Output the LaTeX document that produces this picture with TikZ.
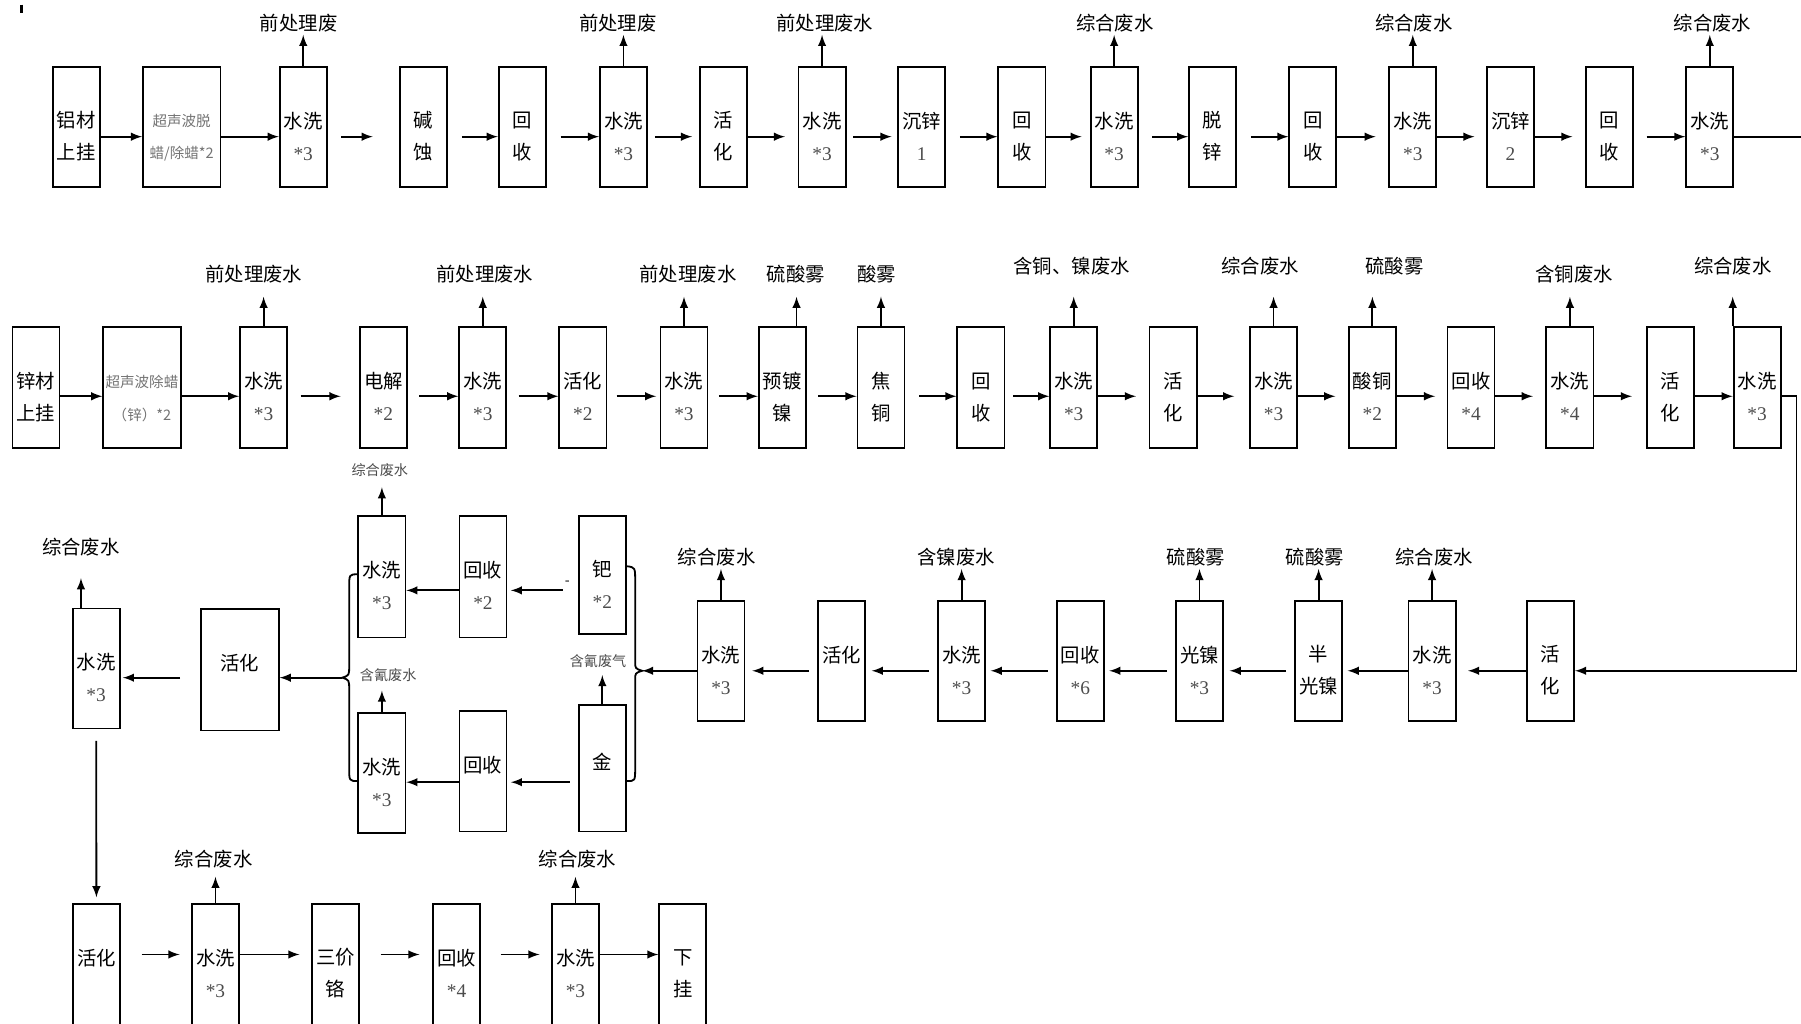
\documentclass[tikz,border=0pt]{standalone}
\usepackage{fontspec}
\setmainfont{Liberation Serif}
\newfontfamily\cjk{Noto Sans CJK SC}
\newcommand{\gnum}[1]{{\rmfamily\color{black!70}#1}}
\begin{document}
\begin{tikzpicture}[x=0.02cm,y=-0.02cm,line width=0.9pt,
  box/.style={draw,minimum width=0.82cm,minimum height=2.1cm,inner sep=0pt,align=center,
    font={\cjk\fontsize{9.6}{15.9}\selectfont},execute at begin node={\rule{0pt}{33pt}}},
  smallbox/.style={box,minimum width=1.35cm,text=black!55,font={\cjk\fontsize{7.2}{16}\selectfont}},
  waste/.style={inner sep=1pt,font={\cjk\fontsize{9.6}{11}\selectfont}},
  tinywaste/.style={inner sep=1pt,text=black!70,font={\cjk\fontsize{7}{8}\selectfont}}]
  \useasboundingbox (0,0) rectangle (1568,891);
  \draw[line width=1.4pt] (19,4)--(19,11);
  \coordinate (r1) at (0,119);
  \coordinate (r2) at (0,345);
  \coordinate (r3) at (0,584);
  \coordinate (r4) at (0,831);
  \coordinate (rt) at (0,514);
  \coordinate (rb) at (0,681);
  \coordinate (e1) at (1568,119);
  \coordinate (k1) at (1564,345);
  \coordinate (k2) at (1564,584);
  \coordinate (lbr) at (298,590);
  \coordinate (rbr) at (559,584);

  \node[box] (a1) at (66.3,110.5) {铝材\\上挂};
  \node[smallbox] (a2) at (158.2,110.5) {超声波脱\\蜡/除蜡*2};
  \node[box] (a3) at (264,110.5) {水洗\\\gnum{*3}};
  \node[box] (a4) at (368.8,110.5) {碱\\蚀};
  \node[box] (a5) at (454.7,110.5) {回\\收};
  \node[box] (a6) at (542.8,110.5) {水洗\\\gnum{*3}};
  \node[box] (a7) at (629.8,110.5) {活\\化};
  \node[box] (a8) at (715.7,110.5) {水洗\\\gnum{*3}};
  \node[box] (a9) at (802.5,110.5) {沉锌\\\gnum{1}};
  \node[box] (a10) at (889.7,110.5) {回\\收};
  \node[box] (a11) at (970,110.5) {水洗\\\gnum{*3}};
  \node[box] (a12) at (1055.7,110.5) {脱\\锌};
  \node[box] (a13) at (1143,110.5) {回\\收};
  \node[box] (a14) at (1230,110.5) {水洗\\\gnum{*3}};
  \node[box] (a15) at (1315,110.5) {沉锌\\\gnum{2}};
  \node[box] (a16) at (1401.3,110.5) {回\\收};
  \node[box] (a17) at (1488.6,110.5) {水洗\\\gnum{*3}};

  \node[waste] (w3) at (260,20) {前处理废};
  \node[waste] (w6) at (538,20) {前处理废};
  \node[waste] (w8) at (718,20) {前处理废水};
  \node[waste] (w11) at (970.6,20) {综合废水};
  \node[waste] (w14) at (1231,20) {综合废水};
  \node[waste] (w17) at (1491,20) {综合废水};
  \draw[-latex] (a3)--(a3 |- w3.south);
  \draw[-latex] (a6)--(a6 |- w6.south);
  \draw[-latex] (a8)--(a8 |- w8.south);
  \draw[-latex] (a11)--(a11 |- w11.south);
  \draw[-latex] (a14)--(a14 |- w14.south);
  \draw[-latex] (a17)--(a17 |- w17.south);

  \draw[-latex] (a1.east |- r1)--(a2.west |- r1);
  \draw[-latex] (a2.east |- r1)--(a3.west |- r1);
  \draw[-latex,shorten <=.24cm,shorten >=.46cm] (a3.east |- r1)--(a4.west |- r1);
  \draw[-latex,shorten <=.24cm] (a4.east |- r1)--(a5.west |- r1);
  \draw[-latex,shorten <=.24cm] (a5.east |- r1)--(a6.west |- r1);
  \draw[-latex,shorten <=.12cm,shorten >=.12cm] (a6.east |- r1)--(a7.west |- r1);
  \draw[-latex,shorten >=.22cm] (a7.east |- r1)--(a8.west |- r1);
  \draw[-latex,shorten <=.12cm,shorten >=.1cm] (a8.east |- r1)--(a9.west |- r1);
  \draw[-latex,shorten <=.24cm] (a9.east |- r1)--(a10.west |- r1);
  \draw[-latex,shorten >=.14cm] (a10.east |- r1)--(a11.west |- r1);
  \draw[-latex,shorten <=.24cm] (a11.east |- r1)--(a12.west |- r1);
  \draw[-latex,shorten <=.24cm] (a12.east |- r1)--(a13.west |- r1);
  \draw[-latex,shorten >=.22cm] (a13.east |- r1)--(a14.west |- r1);
  \draw[-latex,shorten >=.2cm] (a14.east |- r1)--(a15.west |- r1);
  \draw[-latex,shorten >=.22cm] (a15.east |- r1)--(a16.west |- r1);
  \draw[-latex,shorten <=.22cm] (a16.east |- r1)--(a17.west |- r1);
  \draw (a17.east |- e1)--(e1);

  \node[box] (b1) at (31.3,337.5) {锌材\\上挂};
  \node[smallbox] (b2) at (123.6,337.5) {超声波除蜡\\（锌）*2};
  \node[box] (b3) at (229.5,337.5) {水洗\\\gnum{*3}};
  \node[box] (b4) at (333.8,337.5) {电解\\\gnum{*2}};
  \node[box] (b5) at (420.3,337.5) {水洗\\\gnum{*3}};
  \node[box] (b6) at (507.5,337.5) {活化\\\gnum{*2}};
  \node[box] (b7) at (595.5,337.5) {水洗\\\gnum{*3}};
  \node[box] (b8) at (681,337.5) {预镀\\镍};
  \node[box] (b9) at (767,337.5) {焦\\铜};
  \node[box] (b10) at (854,337.5) {回\\收};
  \node[box] (b11) at (934.8,337.5) {水洗\\\gnum{*3}};
  \node[box] (b12) at (1021.3,337.5) {活\\化};
  \node[box] (b13) at (1108.8,337.5) {水洗\\\gnum{*3}};
  \node[box] (b14) at (1194.8,337.5) {酸铜\\\gnum{*2}};
  \node[box] (b15) at (1280.7,337.5) {回收\\\gnum{*4}};
  \node[box] (b16) at (1366.8,337.5) {水洗\\\gnum{*4}};
  \node[box] (b17) at (1454.1,337.5) {活\\化};
  \node[box] (b18) at (1529.8,337.5) {水洗\\\gnum{*3}};

  \node[waste] (v3) at (221,239) {前处理废水};
  \node[waste] (v5) at (422,239) {前处理废水};
  \node[waste] (v7) at (599,239) {前处理废水};
  \node[waste] (v8) at (693,239) {硫酸雾};
  \node[waste] (v9) at (763,239) {酸雾};
  \node[waste] (v11) at (933,232) {含铜、镍废水};
  \node[waste] (v13) at (1097,232) {综合废水};
  \node[waste] (v14) at (1214,232) {硫酸雾};
  \node[waste] (v16) at (1370.6,239) {含铜废水};
  \node[waste] (v18) at (1508.6,232) {综合废水};
  \draw[-latex,shorten >=.18cm] (b3)--(b3 |- v3.south);
  \draw[-latex,shorten >=.18cm] (b5)--(b5 |- v5.south);
  \draw[-latex,shorten >=.18cm] (b7)--(b7 |- v7.south);
  \draw[-latex,shorten >=.18cm] ([xshift=.25cm]b8.north)--([xshift=.25cm]b8.north |- v8.south);
  \draw[-latex,shorten >=.18cm] (b9)--(b9 |- v9.south);
  \draw[-latex,shorten >=.32cm] (b11)--(b11 |- v11.south);
  \draw[-latex,shorten >=.32cm] (b13)--(b13 |- v13.south);
  \draw[-latex,shorten >=.32cm] (b14)--(b14 |- v14.south);
  \draw[-latex,shorten >=.18cm] (b16)--(b16 |- v16.south);
  \draw[-latex,shorten >=.32cm] (b18.north west)--(b18.north west |- v18.south);

  \draw[-latex] (b1.east |- r2)--(b2.west |- r2);
  \draw[-latex] (b2.east |- r2)--(b3.west |- r2);
  \draw[-latex,shorten <=.22cm,shorten >=.32cm] (b3.east |- r2)--(b4.west |- r2);
  \draw[-latex,shorten <=.2cm] (b4.east |- r2)--(b5.west |- r2);
  \draw[-latex,shorten <=.2cm] (b5.east |- r2)--(b6.west |- r2);
  \draw[-latex,shorten <=.16cm,shorten >=.06cm] (b6.east |- r2)--(b7.west |- r2);
  \draw[-latex,shorten <=.18cm] (b7.east |- r2)--(b8.west |- r2);
  \draw[-latex,shorten <=.2cm] (b8.east |- r2)--(b9.west |- r2);
  \draw[-latex,shorten <=.24cm] (b9.east |- r2)--(b10.west |- r2);
  \draw[-latex,shorten <=.14cm] (b10.east |- r2)--(b11.west |- r2);
  \draw[-latex,shorten >=.22cm] (b11.east |- r2)--(b12.west |- r2);
  \draw[-latex,shorten >=.26cm] (b12.east |- r2)--(b13.west |- r2);
  \draw[-latex,shorten >=.22cm] (b13.east |- r2)--(b14.west |- r2);
  \draw[-latex,shorten >=.2cm] (b14.east |- r2)--(b15.west |- r2);
  \draw[-latex,shorten >=.22cm] (b15.east |- r2)--(b16.west |- r2);
  \draw[-latex,shorten >=.24cm] (b16.east |- r2)--(b17.west |- r2);
  \draw[-latex] (b17.east |- r2)--(b18.west |- r2);

  \node[box] (c1) at (1350,575.5) {活\\化};
  \node[box] (c2) at (1246.8,575.5) {水洗\\\gnum{*3}};
  \node[box] (c3) at (1148,575.5) {半\\光镍};
  \node[box] (c4) at (1044.3,575.5) {光镍\\\gnum{*3}};
  \node[box] (c5) at (940.5,575.5) {回收\\\gnum{*6}};
  \node[box] (c6) at (837.2,575.5) {水洗\\\gnum{*3}};
  \node[box] (c7) at (732.7,575.5) {活化\\\mbox{}};
  \node[box] (c8) at (627.7,575.5) {水洗\\\gnum{*3}};
  \draw[-latex] (b18.east |- k1)--(k1)--(k2)--(c1.east |- k2);

  \node[waste] (u2) at (1248.6,485) {综合废水};
  \node[waste] (u3) at (1144.7,485) {硫酸雾};
  \node[waste] (u4) at (1041,485) {硫酸雾};
  \node[waste] (u6) at (832.5,485) {含镍废水};
  \node[waste] (u8) at (624,485) {综合废水};
  \draw[-latex] (c2)--(c2 |- u2.south);
  \draw[-latex] (c3)--(c3 |- u3.south);
  \draw[-latex] (c4)--(c4 |- u4.south);
  \draw[-latex] (c6)--(c6 |- u6.south);
  \draw[-latex] (c8)--(c8 |- u8.south);

  \draw[-latex,shorten >=.2cm] (c1.west |- r3)--(c2.east |- r3);
  \draw[-latex,shorten >=.08cm] (c2.west |- r3)--(c3.east |- r3);
  \draw[-latex,shorten <=.14cm,shorten >=.1cm] (c3.west |- r3)--(c4.east |- r3);
  \draw[-latex,shorten <=.14cm,shorten >=.08cm] (c4.west |- r3)--(c5.east |- r3);
  \draw[-latex,shorten <=.14cm,shorten >=.08cm] (c5.west |- r3)--(c6.east |- r3);
  \draw[-latex,shorten <=.14cm,shorten >=.1cm] (c6.west |- r3)--(c7.east |- r3);
  \draw[-latex,shorten <=.14cm,shorten >=.12cm] (c7.west |- r3)--(c8.east |- r3);
  \draw[-latex] (c8.west |- r3)--(rbr);

  \node[box,minimum height=2.12cm] (lt1) at (332.5,502) {水洗\\\gnum{*3}};
  \node[box,minimum height=2.12cm] (lt2) at (420.5,502) {回收\\\gnum{*2}};
  \node[box,minimum height=2.06cm] (lt3) at (524.4,500.5) {钯\\\gnum{*2}};
  \node[box,minimum height=2.08cm] (lb1) at (332.5,673) {水洗\\\gnum{*3}};
  \node[box,minimum height=2.1cm] (lb2) at (420.5,671.5) {回收\\\mbox{}};
  \node[box,minimum height=2.2cm] (lb3) at (524.4,669) {金\\\mbox{}};
  \node[box,minimum width=1.36cm,minimum height=2.12cm] (act) at (208.7,583) {活化\\\mbox{}};
  \node[box,minimum height=2.09cm] (lw) at (83.7,582) {水洗\\\gnum{*3}};

  \node[tinywaste] (s1) at (330.7,409) {综合废水};
  \node[tinywaste] (s2) at (338,588) {含氰废水};
  \node[tinywaste] (s3) at (520.7,576) {含氰废气};
  \node[waste] (s4) at (70.5,476) {综合废水};
  \node[tinywaste,text=black] (dash) at (494,508) {-};
  \draw[-latex,shorten >=.14cm] (lt1)--(lt1 |- s1.south);
  \draw[-latex,shorten >=.1cm] (lb1)--(lb1 |- s2.south);
  \draw[-latex,shorten >=.07cm] (lb3)--(lb3 |- s3.south);
  \draw[-latex,shorten >=.34cm] (lw.north -| s4)--(s4);

  \draw (311.5,500) .. controls (304,500) .. (304,512)--(304,580) .. controls (304,588) .. (lbr) .. controls (304,592) .. (304,600)--(304,668) .. controls (304,680) .. (311.5,680);
  \draw (546,493) .. controls (553,494) .. (553,506)--(553,576) .. controls (553,582) .. (rbr) .. controls (553,586) .. (553,592)--(553,668) .. controls (553,680) .. (546,680);

  \draw[-latex,shorten <=.26cm,shorten >=.06cm] (lt3.west |- rt)--(lt2.east |- rt);
  \draw[-latex] (lt2.west |- rt)--(lt1.east |- rt);
  \draw[-latex,shorten <=.14cm,shorten >=.06cm] (lb3.west |- rb)--(lb2.east |- rb);
  \draw[-latex] (lb2.west |- rb)--(lb1.east |- rb);
  \draw[-latex] (lbr)--(act.east |- lbr);
  \draw[-latex,shorten <=.34cm,shorten >=.04cm] (act.west |- lbr)--(lw.east |- lbr);

  \node[box] (d1) at (84,839.5) {活化\\\mbox{}};
  \node[box] (d2) at (187.6,839.5) {水洗\\\gnum{*3}};
  \node[box] (d3) at (292,839.5) {三价\\铬};
  \node[box] (d4) at (397.5,839.5) {回收\\\gnum{*4}};
  \node[box] (d5) at (501,839.5) {水洗\\\gnum{*3}};
  \node[box] (d6) at (594.5,839.5) {下\\挂};

  \node[waste] (t2) at (186,748) {综合废水};
  \node[waste] (t5) at (502.7,748) {综合废水};
  \draw[-latex,shorten >=.1cm] (d2)--(d2 |- t2.south);
  \draw[-latex,shorten >=.1cm] (d5)--(d5 |- t5.south);

  \draw[-latex,shorten <=.2cm,shorten >=.1cm] (lw)--(d1);
  \draw[-latex,shorten <=.36cm,shorten >=.2cm] (d1.east |- r4)--(d2.west |- r4);
  \draw[-latex,shorten >=.2cm] (d2.east |- r4)--(d3.west |- r4);
  \draw[-latex,shorten <=.36cm,shorten >=.22cm] (d3.east |- r4)--(d4.west |- r4);
  \draw[-latex,shorten <=.34cm,shorten >=.2cm] (d4.east |- r4)--(d5.west |- r4);
  \draw[-latex] (d5.east |- r4)--(d6.west |- r4);
\end{tikzpicture}
\end{document}
